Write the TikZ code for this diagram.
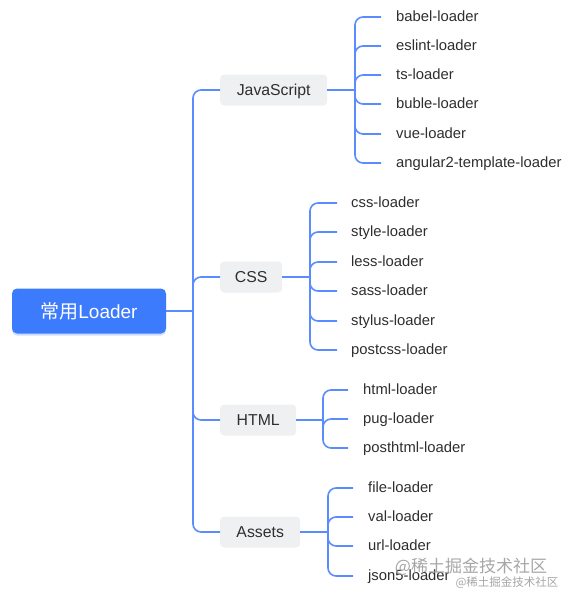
\documentclass[tikz,border=0pt]{standalone}
\usepackage{fontspec}
\setmainfont{Liberation Sans}
\newfontfamily\cjk{Noto Sans CJK SC}
\usetikzlibrary{shadows}
\definecolor{lineblue}{HTML}{5A8CFF}
\definecolor{rootblue}{HTML}{3D7BFD}
\definecolor{catgray}{HTML}{EEF0F2}
\definecolor{txt}{HTML}{2E2E2E}
\begin{document}
\begin{tikzpicture}[x=1pt,y=-1pt,
  conn/.style={draw=lineblue, line width=1.6pt, rounded corners=8pt},
  rootbox/.style={fill=rootblue, rounded corners=5pt, minimum width=154pt, minimum height=45pt,
    text=white, font=\fontsize{19}{22}\selectfont,
    drop shadow={shadow xshift=0pt, shadow yshift=-2pt, fill=rootblue, opacity=0.25}},
  cat/.style={fill=catgray, rounded corners=4pt, minimum height=31pt, anchor=west,
    text=txt, font=\fontsize{15.8}{18}\selectfont, inner xsep=0pt,
    text height=14.1pt, text depth=3.5pt},
  leaf/.style={anchor=west, text=txt, font=\fontsize{14.8}{17}\selectfont, inner sep=0pt,
    text height=12.4pt, text depth=3.4pt},
  wm/.style={text=black!35}]
\useasboundingbox (0,0) rectangle (564,595);

% root
\node[rootbox] (root) at (89,311) {{\cjk 常用}Loader};
\coordinate (rj) at (193,311);

% categories
\node[cat, minimum width=107pt] (js) at (220,90) {JavaScript};
\node[cat, minimum width=62pt] (css) at (220,277) {CSS};
\node[cat, minimum width=76pt] (html) at (220,420) {HTML};
\node[cat, minimum width=80pt] (assets) at (220,532) {Assets};

\draw[conn] (root.east) -- (rj);
\draw[conn] (rj) |- (js.west);
\draw[conn] (rj) |- (css.west);
\draw[conn] (rj) |- (html.west);
\draw[conn] (rj) |- (assets.west);

% JavaScript leaves
\coordinate (jjs) at (355,90);
\draw[conn] (js.east) -- (jjs);
\foreach \n/\y/\t in {j1/17/babel-loader, j2/46/eslint-loader, j3/75/ts-loader, j4/104/buble-loader, j5/134/vue-loader, j6/163/angular2-template-loader}{
  \node[leaf] (\n) at (396,\y) {\t};
  \draw[conn] (jjs) |- ([xshift=-15pt]\n.west);
}

% CSS leaves
\coordinate (jcss) at (310,277);
\draw[conn] (css.east) -- (jcss);
\foreach \n/\y/\t in {c1/203/css-loader, c2/232/style-loader, c3/262/less-loader, c4/291/sass-loader, c5/321/stylus-loader, c6/350/postcss-loader}{
  \node[leaf] (\n) at (351,\y) {\t};
  \draw[conn] (jcss) |- ([xshift=-14pt]\n.west);
}

% HTML leaves
\coordinate (jhtml) at (323,420);
\draw[conn] (html.east) -- (jhtml);
\foreach \n/\y/\t in {h1/390/html-loader, h2/419/pug-loader, h3/448/posthtml-loader}{
  \node[leaf] (\n) at (363,\y) {\t};
  \draw[conn] (jhtml) |- ([xshift=-15pt]\n.west);
}

% Assets leaves
\coordinate (jas) at (328,532);
\draw[conn] (assets.east) -- (jas);
\foreach \n/\y/\t in {a1/488/file-loader, a2/517/val-loader, a3/546/url-loader, a4/576/json5-loader}{
  \node[leaf] (\n) at (368,\y) {\t};
  \draw[conn] (jas) |- ([xshift=-15pt]\n.west);
}

% watermarks
\node[wm, font=\cjk\fontsize{17}{19}\selectfont] (wm1) at (471,567) {@稀土掘金技术社区};
\node[wm, font=\cjk\fontsize{11.5}{13}\selectfont] (wm2) at (507,583) {@稀土掘金技术社区};
\end{tikzpicture}
\end{document}
